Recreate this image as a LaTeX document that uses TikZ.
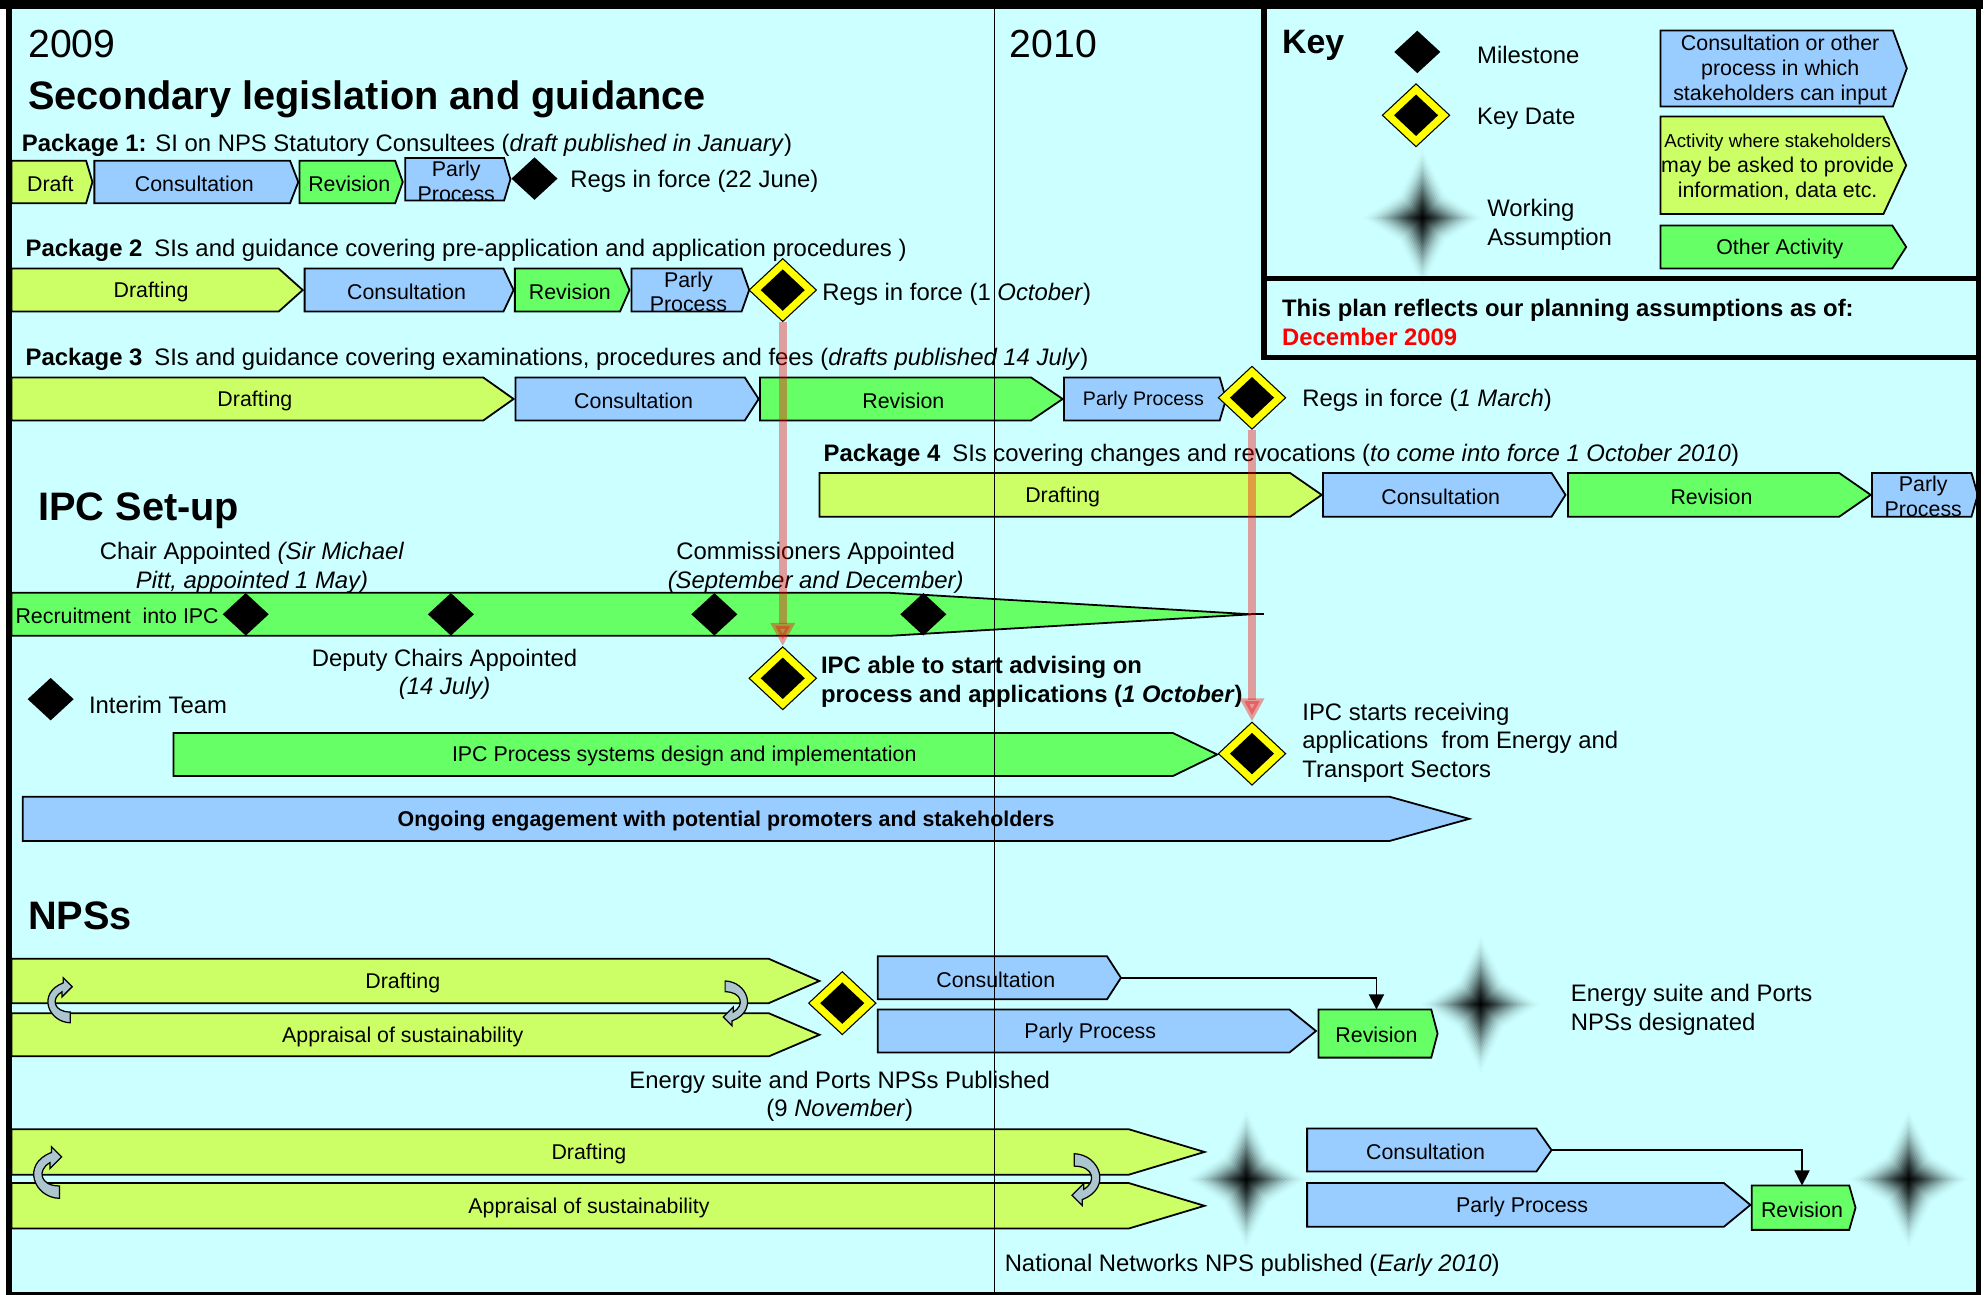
\documentclass[tikz,border=0pt]{standalone}
\usepackage{fontspec}
\setmainfont{Liberation Sans}
\usetikzlibrary{arrows.meta,shapes.geometric}
\definecolor{Sky}{RGB}{204,255,255}
\definecolor{BarBlue}{RGB}{153,204,255}
\definecolor{BarLime}{RGB}{204,255,102}
\definecolor{BarGreen}{RGB}{102,255,102}
\definecolor{KeyYellow}{RGB}{255,255,0}
\definecolor{AlertRed}{RGB}{255,0,0}
\definecolor{TurnGrey}{RGB}{172,198,208}
\tikzset{
  stagebox/.style={draw=black,line width=1pt},
  stageblue/.style={stagebox,fill=BarBlue},
  stagelime/.style={stagebox,fill=BarLime},
  stagegreen/.style={stagebox,fill=BarGreen},
  stagetext/.style={inner sep=0pt,yshift=-1pt,align=center,font=\fontsize{12}{14}\selectfont},
  milestone/.style={diamond,fill=black,inner sep=0pt,minimum width=26pt,minimum height=24pt},
  keydate/.style={diamond,draw=black,line width=.6pt,fill=KeyYellow,inner sep=0pt,minimum width=38pt,minimum height=35.5pt,
    path picture={\fill[black] ([yshift=-6pt]path picture bounding box.north) -- ([xshift=-6.5pt]path picture bounding box.east)
      -- ([yshift=6pt]path picture bounding box.south) -- ([xshift=6.5pt]path picture bounding box.west) -- cycle;}},
  note/.style={inner sep=0pt,anchor=west,align=left,yshift=-1.7pt,font=\fontsize{13.4}{16}\selectfont},
  notemid/.style={note,anchor=center,align=center},
  notebold/.style={note,font=\fontsize{13.4}{16.4}\selectfont\bfseries},
  headline/.style={inner sep=0pt,anchor=west,yshift=-2.2pt,font=\fontsize{22.3}{26}\selectfont\bfseries},
  yearlabel/.style={inner sep=0pt,anchor=west,yshift=-.7pt,font=\fontsize{22}{26}\selectfont},
  feed/.style={draw=black,line width=.8pt,-{Triangle[length=8.5pt,width=8.5pt]}},
  redflow/.style={draw=AlertRed,line width=4.3pt,opacity=.38,-{Triangle[length=13pt,width=13pt]}},
  turn/.style={draw=black,line width=.7pt,fill=TurnGrey},
  turnarrow/.pic={\path[turn] (9.5,17.5) .. controls (-8,17) and (-17,-6) .. (4,-14) -- (4,-18) -- (11,-11) -- (3,-3)
    -- (3,-7) .. controls (-6,-2) and (-4,9) .. (9.5,9) -- cycle;},
  wstar/.pic={\foreach \k in {1,...,24}{\pgfmathsetmacro\s{(\k/24)^2}\pgfmathsetmacro\o{.02+.2*(1-\s)}
    \fill[black,fill opacity=\o] (0,-54*\s) -- (18*\s,-18*\s) -- (47*\s,0) -- (18*\s,18*\s) -- (0,54*\s)
      -- (-18*\s,18*\s) -- (-47*\s,0) -- (-18*\s,-18*\s) -- cycle;}}
}
% [style]{name}{left x}{tip x}{centre y}{half height}{tip depth}{text}
\newcommand{\phasebar}[8][]{%
  \draw[#1] (#3,#5-#6) -- (#4-#7,#5-#6) -- (#4,#5) -- (#4-#7,#5+#6) -- (#3,#5+#6) -- cycle;
  \node[stagetext,minimum width={(#4-#3-#7/2)*0.025cm}] (#2) at ({(#3+#4-#7/2)/2},#5) {#8};
  \coordinate (#2-top) at ({(#3+#4-#7/2)/2},#5-#6);
  \coordinate (#2-tip) at (#4,#5);}

\begin{document}
\begin{tikzpicture}[x=0.025cm,y=-0.025cm]
  \useasboundingbox (0,0) rectangle (1568,1022);
  \fill[white] (0,0) rectangle (1568,1022);
  \fill[Sky] (7,7) rectangle (1562,1021);

  \phasebar[stagelime]{draft1}{9}{73}{143.7}{16.8}{5}{Draft}
  \phasebar[stageblue]{cons1}{74.5}{235.5}{143.7}{16.8}{6.5}{Consultation}
  \phasebar[stagegreen]{rev1}{236.5}{318}{143.7}{16.8}{6}{Revision}
  \phasebar[stageblue]{parly1}{320}{403}{141.5}{16.8}{5}{Parly\\Process}

  \phasebar[stagelime]{draft2}{9}{239}{229}{17}{19}{Drafting}
  \phasebar[stageblue]{cons2}{240.5}{405.5}{229}{17}{8}{Consultation}
  \phasebar[stagegreen]{rev2}{406.5}{497}{229}{17}{7.5}{Revision}
  \phasebar[stageblue]{parly2}{498.5}{591.5}{229}{17}{6}{Parly\\Process}

  \phasebar[stagelime]{draft3}{9}{405.5}{315}{17}{24}{Drafting}
  \phasebar[stageblue]{cons3}{407}{599}{315}{17}{11}{Consultation}
  \phasebar[stagegreen]{rev3}{600}{839}{315}{17}{25}{Revision}
  \phasebar[stageblue]{parly3}{840}{968}{315}{17}{5}{\fontsize{11}{13}\selectfont Parly Process}

  \phasebar[stagelime]{draft4}{647}{1043.5}{390.7}{17.3}{25}{Drafting}
  \phasebar[stageblue]{cons4}{1044.5}{1236}{390.7}{17.3}{11}{Consultation}
  \phasebar[stagegreen]{rev4}{1238}{1477}{390.7}{17.3}{25}{Revision}
  \phasebar[stageblue]{parly4}{1478}{1561.5}{390.7}{17.3}{5}{Parly\\Process}

  \draw[stagegreen] (9,468) -- (702,468) -- (988,485) -- (702,502) -- (9,502) -- cycle;
  \draw[line width=1pt] (988,485) -- (998,485);
  \node[note,yshift=.7pt,font=\fontsize{12}{14}\selectfont] (recruit) at (12,485) {Recruitment\ \ into IPC};
  \phasebar[stagegreen]{ipcsys}{137}{961}{595.7}{17}{35}{IPC Process systems design and implementation}
  \phasebar[stageblue]{engage}{18}{1160}{646.5}{17.5}{63}{\bfseries Ongoing engagement with potential promoters and stakeholders}

  \phasebar[stagelime]{draftA}{9}{647}{774.5}{17.5}{40}{Drafting}
  \phasebar[stagelime]{aosA}{9}{647}{817}{17}{40}{Appraisal of sustainability}
  \phasebar[stageblue]{consA}{693}{885}{772}{17}{11}{Consultation}
  \phasebar[stageblue]{parlyA}{693}{1039}{814}{17}{21}{Parly Process}
  \phasebar[stagegreen]{revA}{1041}{1135}{816}{19}{5}{Revision}

  \phasebar[stagelime]{draftB}{9}{951}{909.5}{18}{60}{Drafting}
  \phasebar[stagelime]{aosB}{9}{951}{952}{18}{60}{Appraisal of sustainability}
  \phasebar[stageblue]{consB}{1032}{1225}{908}{17}{12}{Consultation}
  \phasebar[stageblue]{parlyB}{1032}{1382}{951.3}{17.3}{21}{Parly Process}
  \phasebar[stagegreen]{revB}{1383}{1465}{953.5}{17.5}{5}{Revision}

  \phasebar[stageblue]{keycons}{1311}{1505.5}{54}{30}{11}{Consultation or other\\process in which\\stakeholders can input}
  \phasebar[stagelime]{keyinput}{1311}{1505}{130.5}{38.5}{18}{\fontsize{10.5}{13.2}\selectfont Activity where stakeholders\\may be asked to provide\\information, data etc.}
  \phasebar[stagegreen]{keyother}{1311}{1505}{195}{17}{11}{Other Activity}

  \node[milestone] (reg1) at (422,141) {};
  \node[keydate] (reg2) at (618,229) {};
  \node[keydate] (reg3) at (988.5,314) {};
  \foreach \x [count=\i] in {194,356,564,729} \node[milestone] (hire\i) at (\x,485) {};
  \node[milestone] (interim) at (40,552) {};
  \node[keydate] (advise) at (618,535.5) {};
  \node[keydate] (receive) at (988.5,595) {};
  \node[keydate] (publishA) at (665,792) {};
  \node[milestone] (keyms) at (1119,41) {};
  \node[keydate] (keykd) at (1118,91) {};
  \foreach \x/\y in {1123/172,1169/793,984/931,1507/931} \pic at (\x,\y) {wstar};
  \foreach \x/\y/\r/\s in {46/790/0/1,582/792/180/1,36/926/0/1.15,859/931/180/1.15} \pic[rotate=\r,scale=\s] at (\x,\y) {turnarrow};

  \node[yearlabel] (y2009) at (22,34) {2009};
  \node[yearlabel] (y2010) at (797,34) {2010};
  \node[headline] (seclegis) at (22,75) {Secondary legislation and guidance};
  \node[note] (pk1) at (17,112) {\textbf{Package 1:} SI on NPS Statutory Consultees (\textit{draft published in January})};
  \node[note] (force1) at (450,141) {Regs in force (22 June)};
  \node[note] (pk2) at (20,195) {\textbf{Package 2}\hspace{.5em}SIs and guidance covering pre-application and application procedures )};
  \node[note] (force2) at (649,230) {Regs in force (1 \textit{October})};
  \node[note] (pk3) at (20,281) {\textbf{Package 3}\hspace{.5em}SIs and guidance covering examinations, procedures and fees (\textit{drafts published 14 July})};
  \node[note] (force3) at (1028,314) {Regs in force (\textit{1 March})};
  \node[note] (pk4) at (650,357) {\textbf{Package 4}\hspace{.5em}SIs covering changes and revocations (\textit{to come into force 1 October 2010})};
  \node[headline] (ipchead) at (30,400) {IPC Set-up};
  \node[notemid] (chair) at (199,446) {Chair Appointed \textit{(Sir Michael}\\\textit{Pitt, appointed 1 May)}};
  \node[notemid] (commish) at (644,446) {Commissioners Appointed\\\textit{(September and December)}};
  \node[notemid] (deputy) at (351,530) {Deputy Chairs Appointed\\\textit{(14 July)}};
  \node[note] (interimtxt) at (70,554) {Interim Team};
  \node[notebold] (advisetxt) at (648,536) {IPC able to start advising on\\process and applications (\textit{1 October})};
  \node[note] (receivetxt) at (1028,584) {IPC starts receiving\\applications\ \ from Energy and\\Transport Sectors};
  \node[headline] (npshead) at (22,720) {NPSs};
  \node[notemid] (publishtxt) at (663,863) {Energy suite and Ports NPSs Published\\(9 \textit{November})};
  \node[note] (designtxt) at (1240,795) {Energy suite and Ports\\NPSs designated};
  \node[note] (nettxt) at (793,997) {National Networks NPS published (\textit{Early 2010})};
  \node[headline,font=\fontsize{19}{22}\selectfont\bfseries] (keyhead) at (1012,33) {Key};
  \node[note] (keymstxt) at (1166,41) {Milestone};
  \node[note] (keykdtxt) at (1166,91) {Key Date};
  \node[note] (keywatxt) at (1174,175) {Working\\Assumption};
  \node[notebold] (plantxt) at (1012,252.5) {This plan reflects our planning assumptions as of:\\\textcolor{AlertRed}{December 2009}};

  \draw[feed] (consA-tip) -| (revA-top);
  \draw[feed] (consB-tip) -| (revB-top);
  \draw[redflow] (reg2.south) -- (advise.north);
  \draw[redflow] (reg3.south) -- (receive.north);

  \draw[line width=.7pt] (785,7) -- (785,1021);
  \fill[black] (0,0) rectangle (1566,7);
  \draw[line width=3.2pt] (7,0) -- (7,1021);
  \draw[line width=3.2pt] (1562,0) -- (1562,1021);
  \draw[line width=1.5pt] (5,1021) -- (1564,1021);
  \draw[line width=3pt] (998,7) -- (998,282) -- (1562,282);
  \draw[line width=3pt] (998,220) -- (1562,220);
\end{tikzpicture}
\end{document}
